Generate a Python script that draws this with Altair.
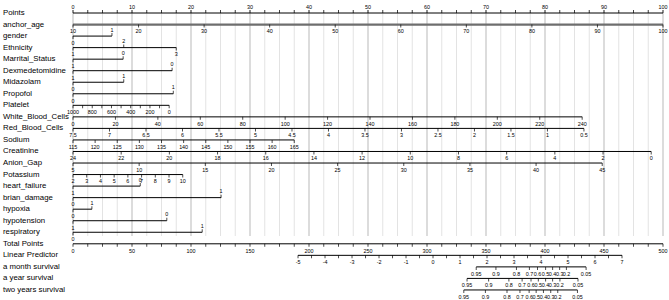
import altair as alt
import pandas as pd

# ---------------- data ----------------
row_names = ["Points", "anchor_age", "gender", "Ethnicity", "Marrital_Status",
             "Dexmedetomidine", "Midazolam", "Propofol", "Platelet",
             "White_Blood_Cells", "Red_Blood_Cells", "Sodium", "Creatinine",
             "Anion_Gap", "Potassium", "heart_failure", "brian_damage", "hypoxia",
             "hypotension", "respiratory", "Total Points", "Linear Predictor",
             "a month survival", "a year survival", "two years survival"]

points_labels = list(range(0, 101, 10))
points_minor = [i * 2.5 for i in range(41) if (i * 2.5) % 10 != 0]

# continuous predictors: tick values, (value at left end, value at right end), points at those ends
age_values = list(range(10, 101, 10));            age_ends = (10, 100);   age_pts = (0, 100)
platelet_values = [1000, 800, 600, 400, 200, 0];  platelet_minor = [900, 700, 500, 300, 100]
platelet_ends = (1000, 0);                        platelet_pts = (0, 16.3)
wbc_values = list(range(0, 241, 20));             wbc_ends = (0, 240);    wbc_pts = (0, 86.3)
rbc_values = [7.5, 7, 6.5, 6, 5.5, 5, 4.5, 4, 3.5, 3, 2.5, 2, 1.5, 1, 0.5]
rbc_ends = (7.5, 0.5);                            rbc_pts = (0, 86.6)
sodium_values = list(range(115, 166, 5));         sodium_ends = (115, 165); sodium_pts = (0, 37.5)
creat_values = list(range(24, -1, -2));           creat_ends = (24, 0);   creat_pts = (0, 98.0)
anion_values = list(range(5, 46, 5));             anion_ends = (5, 45);   anion_pts = (0, 89.7)
potassium_values = list(range(2, 11));            potassium_ends = (2, 10); potassium_pts = (0, 18.6)

# categorical predictors: levels and their points
gender_levels = ["0", "1"];          gender_points = [0, 6.6]
ethnicity_levels = ["1", "2", "3"];  ethnicity_points = [0, 8.6, 17.5]
marital_levels = ["1", "0"];         marital_points = [0, 8.5]
dexmed_levels = ["1", "0"];          dexmed_points = [0, 16.8]
midazolam_levels = ["0", "1"];       midazolam_points = [0, 8.6]
propofol_levels = ["0", "1"];        propofol_points = [0, 17.0]
hf_levels = ["1", "0"];              hf_points = [0, 11.4]
brain_levels = ["0", "1"];           brain_points = [0, 25.1]
hypoxia_levels = ["0", "1"];         hypoxia_points = [0, 3.2]
hypotension_levels = ["1", "0"];     hypotension_points = [0, 15.9]
resp_levels = ["0", "1"];            resp_points = [0, 21.9]

total_labels = list(range(0, 501, 50))
total_minor = [i * 12.5 for i in range(41) if (i * 12.5) % 50 != 0]
total_per_point = 5.0

lp_labels = list(range(-5, 8))
lp_minor = [v + 0.5 for v in range(-5, 7)]
lp_anchor = (-5, 38.14)      # LP value, points position
lp_step = 4.576              # points per LP unit

surv_labels = ["0.95", "0.9", "0.8", "0.7", "0.6", "0.5", "0.4", "0.3", "0.2", "0.05"]
month_lp = [1.60, 2.33, 3.09, 3.57, 3.87, 4.17, 4.43, 4.69, 4.94, 5.67]
year_lp = [1.26, 2.06, 2.81, 3.30, 3.63, 3.90, 4.17, 4.43, 4.70, 5.37]
two_year_lp = [1.14, 1.94, 2.74, 3.22, 3.56, 3.82, 4.09, 4.36, 4.62, 5.35]

# ---------------- build tables ----------------
lines, ticks, labels = [], [], []


def rid(name):
    return row_names.index(name)


def fmt(v):
    return f"{v:g}"


def add_axis(name, pts, texts, sides, minor=(), minor_side="below", width=1.0, color="black"):
    r = rid(name)
    allp = list(pts) + list(minor)
    lines.append(dict(row=r, x1=min(allp), x2=max(allp), w=width, c=color))
    for p, t, s in zip(pts, texts, sides):
        ticks.append(dict(row=r, x=p, side=s))
        labels.append(dict(row=r, x=p, t=t, side=s))
    for p in minor:
        ticks.append(dict(row=r, x=p, side=minor_side))


def lin(values, ends, pts):
    (v0, v1), (p0, p1) = ends, pts
    return [p0 + (v - v0) / (v1 - v0) * (p1 - p0) for v in values]


def add_cont(name, values, ends, pts, minor=(), width=1.0, color="black"):
    add_axis(name, lin(values, ends, pts), [fmt(v) for v in values],
             ["below"] * len(values), lin(minor, ends, pts), "below", width, color)


def add_cat(name, levels, pts):
    sides = ["below" if i % 2 == 0 else "above" for i in range(len(levels))]
    add_axis(name, pts, levels, sides)


def lp_to_pts(v):
    return lp_anchor[1] + (v - lp_anchor[0]) * lp_step


add_axis("Points", points_labels, [fmt(v) for v in points_labels],
         ["above"] * len(points_labels), points_minor, "above")
add_cont("anchor_age", age_values, age_ends, age_pts, width=2.2, color="#6e6e6e")
add_cat("gender", gender_levels, gender_points)
add_cat("Ethnicity", ethnicity_levels, ethnicity_points)
add_cat("Marrital_Status", marital_levels, marital_points)
add_cat("Dexmedetomidine", dexmed_levels, dexmed_points)
add_cat("Midazolam", midazolam_levels, midazolam_points)
add_cat("Propofol", propofol_levels, propofol_points)
add_cont("Platelet", platelet_values, platelet_ends, platelet_pts, platelet_minor)
add_cont("White_Blood_Cells", wbc_values, wbc_ends, wbc_pts)
add_cont("Red_Blood_Cells", rbc_values, rbc_ends, rbc_pts)
add_cont("Sodium", sodium_values, sodium_ends, sodium_pts)
add_cont("Creatinine", creat_values, creat_ends, creat_pts)
add_cont("Anion_Gap", anion_values, anion_ends, anion_pts)
add_cont("Potassium", potassium_values, potassium_ends, potassium_pts)
add_cat("heart_failure", hf_levels, hf_points)
add_cat("brian_damage", brain_levels, brain_points)
add_cat("hypoxia", hypoxia_levels, hypoxia_points)
add_cat("hypotension", hypotension_levels, hypotension_points)
add_cat("respiratory", resp_levels, resp_points)
add_axis("Total Points", [v / total_per_point for v in total_labels],
         [fmt(v) for v in total_labels], ["below"] * len(total_labels),
         [v / total_per_point for v in total_minor], "below")
add_axis("Linear Predictor", [lp_to_pts(v) for v in lp_labels],
         [fmt(v) for v in lp_labels], ["below"] * len(lp_labels),
         [lp_to_pts(v) for v in lp_minor], "below")
for nm, lps in [("a month survival", month_lp), ("a year survival", year_lp),
                ("two years survival", two_year_lp)]:
    add_axis(nm, [lp_to_pts(v) for v in lps], surv_labels, ["below"] * len(lps))

grid = [dict(x=i * 2.5, kind="major" if (i * 2.5) % 10 == 0 else "minor") for i in range(41)]

lines_df = pd.DataFrame(lines)
ticks_df = pd.DataFrame(ticks)
labels_df = pd.DataFrame(labels)
names_df = pd.DataFrame(dict(row=list(range(len(row_names))), name=row_names))
grid_df = pd.DataFrame(grid)

# ---------------- chart ----------------
W, H = 669, 300
X_SCALE = alt.Scale(domain=[-73 / 5.9, (W - 73) / 5.9], nice=False, zero=False)
Y_SCALE = alt.Scale(domain=[-13 / 11.54, (H - 13) / 11.54], nice=False, zero=False, reverse=True)
FONT = "Liberation Sans"

xq = lambda f: alt.X(f, type="quantitative", scale=X_SCALE, axis=None)
yq = alt.Y("row:Q", scale=Y_SCALE, axis=None)

grid_minor = alt.Chart(grid_df).transform_filter("datum.kind == 'minor'").mark_rule(
    color="#e3e3e3", strokeWidth=1).encode(x=xq("x"), y=alt.value(10), y2=alt.value(236))
grid_major = alt.Chart(grid_df).transform_filter("datum.kind == 'major'").mark_rule(
    color="#b9b9b9", strokeWidth=1).encode(x=xq("x"), y=alt.value(10), y2=alt.value(236))

axis_lines = alt.Chart(lines_df).mark_rule().encode(
    x=xq("x1"), x2="x2", y=yq,
    strokeWidth=alt.StrokeWidth("w:Q", scale=None),
    color=alt.Color("c:N", scale=None))

ticks_down = alt.Chart(ticks_df).transform_filter("datum.side == 'below'").mark_tick(
    orient="vertical", size=3, thickness=1, color="black", yOffset=1.5).encode(x=xq("x"), y=yq)
ticks_up = alt.Chart(ticks_df).transform_filter("datum.side == 'above'").mark_tick(
    orient="vertical", size=3, thickness=1, color="black", yOffset=-1.5).encode(x=xq("x"), y=yq)

lab_below = alt.Chart(labels_df).transform_filter("datum.side == 'below'").mark_text(
    font=FONT, fontSize=5.4, dy=6.8, baseline="middle", align="center", color="black").encode(
    x=xq("x"), y=yq, text="t:N")
lab_above = alt.Chart(labels_df).transform_filter("datum.side == 'above'").mark_text(
    font=FONT, fontSize=5.4, dy=-6.5, baseline="middle", align="center", color="black").encode(
    x=xq("x"), y=yq, text="t:N")

names = alt.Chart(names_df).mark_text(
    font=FONT, fontSize=7.8, align="left", baseline="middle", color="black").encode(
    x=alt.value(3), y=yq, text="name:N")

chart = alt.layer(grid_minor, grid_major, axis_lines, ticks_down, ticks_up,
                  lab_below, lab_above, names).properties(
    width=W, height=H, autosize=alt.AutoSizeParams(type="none"), padding=0,
    background="white").configure_view(strokeWidth=0)

chart.save("out.html", embed_options={"renderer": "svg", "actions": False})
